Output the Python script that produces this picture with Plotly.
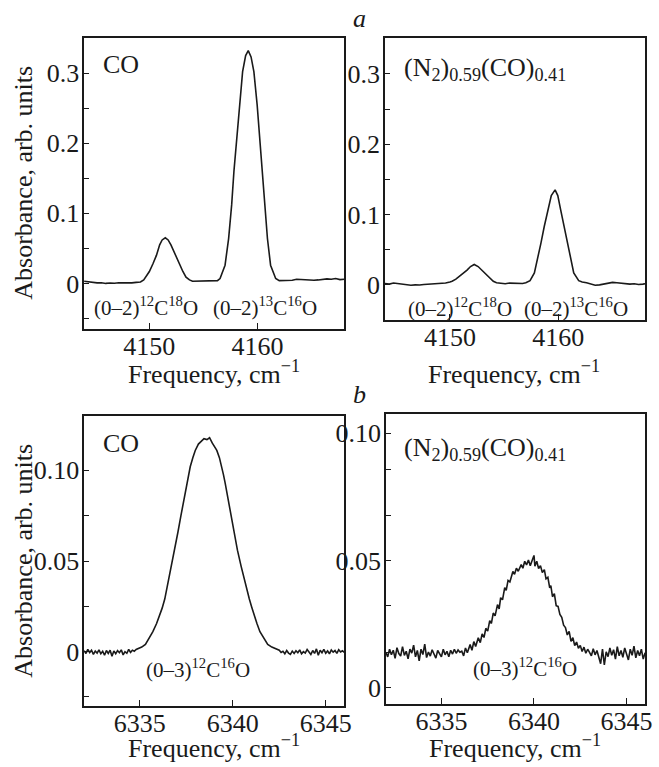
import plotly.graph_objects as go

# ---------------- data ----------------
# (a) CO, (0-2) band region
freq_a_co = [4144.0, 4144.4, 4144.8, 4145.2, 4145.6, 4146.0, 4146.4, 4146.8, 4147.2, 4147.6,
             4148.0, 4148.4, 4148.8, 4149.2, 4149.5, 4150.02, 4150.35, 4150.67, 4150.97, 4151.2,
             4151.49, 4151.75, 4152.01, 4152.44, 4152.78, 4153.11, 4153.4, 4153.72, 4154.0, 4154.4,
             4154.8, 4155.2, 4155.6, 4156.0, 4156.3, 4156.54, 4157.0, 4157.33, 4157.61, 4157.82,
             4158.07, 4158.31, 4158.62, 4158.9, 4159.14, 4159.4, 4159.66, 4159.96, 4160.2, 4160.42,
             4160.67, 4160.91, 4161.2, 4161.67, 4162.0, 4162.4, 4162.8, 4163.2, 4163.6, 4164.0,
             4164.4, 4164.8, 4165.2, 4165.6, 4166.0, 4166.4, 4166.8, 4167.2, 4167.6, 4168.0]
abs_a_co = [0.003, 0.002, 0.0015, 0.0008, 0.001, 0.0, 0.0006, 0.0002, 0.001, 0.0006,
            0.0012, 0.0008, 0.0015, 0.002, 0.005, 0.017, 0.028, 0.040, 0.055, 0.062,
            0.065, 0.062, 0.055, 0.040, 0.027, 0.017, 0.009, 0.005, 0.003, 0.003,
            0.004, 0.003, 0.0035, 0.003, 0.004, 0.007, 0.026, 0.064, 0.112, 0.160,
            0.207, 0.255, 0.302, 0.325, 0.332, 0.323, 0.302, 0.255, 0.207, 0.160,
            0.112, 0.064, 0.026, 0.007, 0.004, 0.004, 0.005, 0.0045, 0.006, 0.0055,
            0.006, 0.005, 0.0045, 0.005, 0.006, 0.0065, 0.006, 0.007, 0.0055, 0.006]

# (a) (N2)0.59(CO)0.41
freq_a_mix = [4144.0, 4144.4, 4144.8, 4145.2, 4145.6, 4146.0, 4146.4, 4146.8, 4147.2, 4147.6,
              4148.0, 4148.4, 4148.8, 4149.2, 4149.6, 4150.0, 4150.2, 4150.55, 4150.9, 4151.25,
              4151.58, 4151.9, 4152.24, 4152.6, 4152.94, 4153.25, 4153.55, 4153.8, 4154.0, 4154.3,
              4154.7, 4155.1, 4155.5, 4155.9, 4156.3, 4156.7, 4157.0, 4157.39, 4157.79, 4158.09,
              4158.39, 4158.7, 4159.03, 4159.35, 4159.7, 4159.95, 4160.21, 4160.52, 4160.82, 4161.12,
              4161.42, 4161.88, 4162.2, 4162.6, 4163.0, 4163.4, 4163.8, 4164.2, 4164.6, 4165.0,
              4165.4, 4165.8, 4166.2, 4166.6, 4167.0, 4167.4, 4167.8, 4168.0]
abs_a_mix = [0.002, 0.001, 0.0025, 0.0015, 0.0005, 0.0, -0.0005, 0.0, -0.0003, 0.0005,
             0.001, 0.0015, 0.001, 0.002, 0.0025, 0.004, 0.005, 0.008, 0.012, 0.017,
             0.021, 0.026, 0.029, 0.026, 0.021, 0.016, 0.012, 0.008, 0.005, 0.003,
             0.002, 0.0015, 0.0025, 0.002, 0.0025, 0.002, 0.003, 0.006, 0.017, 0.036,
             0.059, 0.083, 0.107, 0.127, 0.135, 0.127, 0.107, 0.083, 0.059, 0.036,
             0.017, 0.006, 0.004, 0.003, 0.001, -0.0005, 0.0, 0.0015, 0.003, 0.0035,
             0.003, 0.002, 0.002, 0.001, 0.0015, 0.0005, 0.001, 0.0015]

# (b) CO, (0-3) band
freq_b_co = [6332.0, 6332.1, 6332.2, 6332.3, 6332.4, 6332.5, 6332.6, 6332.7, 6332.8, 6332.9,
             6333.0, 6333.1, 6333.2, 6333.3, 6333.4, 6333.5, 6333.6, 6333.7, 6333.8, 6333.9,
             6334.0, 6334.1, 6334.2, 6334.3, 6334.4, 6334.5, 6334.6, 6334.7, 6334.8,
             6335.1, 6335.3, 6335.5, 6335.7, 6335.9, 6336.07, 6336.2, 6336.34, 6336.52, 6336.7,
             6336.88, 6337.05, 6337.21, 6337.38, 6337.54, 6337.71, 6337.85, 6337.98, 6338.15, 6338.3,
             6338.45, 6338.61, 6338.75, 6338.9, 6339.02, 6339.14, 6339.28, 6339.41, 6339.5, 6339.59,
             6339.75, 6339.91, 6340.08, 6340.25, 6340.45, 6340.66, 6340.78, 6340.89, 6341.02, 6341.14,
             6341.3, 6341.46, 6341.67, 6341.88, 6342.1, 6342.36,
             6342.5, 6342.6, 6342.7, 6342.8, 6342.9, 6343.0, 6343.1, 6343.2, 6343.3, 6343.4,
             6343.5, 6343.6, 6343.7, 6343.8, 6343.9, 6344.0, 6344.1, 6344.2, 6344.3, 6344.4,
             6344.5, 6344.6, 6344.7, 6344.8, 6344.9, 6345.0, 6345.1, 6345.2, 6345.3, 6345.4,
             6345.5, 6345.6, 6345.7, 6345.8, 6345.9, 6346.0]
abs_b_co = [0.0005, -0.0010, 0.0012, -0.0005, 0.0008, -0.0015, 0.0003, -0.0008, 0.0010, -0.0012,
            0.0002, -0.0020, 0.0006, -0.0010, 0.0008, -0.0025, 0.0004, -0.0012, 0.0006, -0.0006,
            0.0010, -0.0018, 0.0000, -0.0009, 0.0012, -0.0004, 0.0008, 0.0002, 0.0012,
            0.0025, 0.0040, 0.0075, 0.0110, 0.0155, 0.0200, 0.0240, 0.0290, 0.0380, 0.0470,
            0.0560, 0.0660, 0.0750, 0.0840, 0.0930, 0.1020, 0.1070, 0.1110, 0.1145, 0.1160,
            0.1175, 0.1170, 0.1180, 0.1150, 0.1130, 0.1110, 0.1070, 0.1020, 0.0975, 0.0930,
            0.0840, 0.0750, 0.0655, 0.0560, 0.0470, 0.0380, 0.0335, 0.0290, 0.0245, 0.0200,
            0.0155, 0.0110, 0.0075, 0.0040, 0.0025, 0.0015,
            0.0008, -0.0005, 0.0002, -0.0012, 0.0006, -0.0008, -0.0015, 0.0003, -0.0010, 0.0005,
            -0.0006, 0.0010, -0.0012, 0.0000, -0.0008, 0.0012, -0.0004, -0.0016, 0.0006, -0.0010,
            0.0015, -0.0020, 0.0008, -0.0006, 0.0012, -0.0009, 0.0004, -0.0012, 0.0009, -0.0003,
            0.0006, -0.0010, 0.0011, -0.0002, 0.0005, -0.0004]

# (b) (N2)0.59(CO)0.41
freq_b_mix = [6332.0, 6332.1, 6332.2, 6332.3, 6332.4, 6332.5, 6332.6, 6332.7, 6332.8, 6332.9,
              6333.0, 6333.1, 6333.2, 6333.3, 6333.4, 6333.5, 6333.6, 6333.7, 6333.8, 6333.9,
              6334.0, 6334.1, 6334.2, 6334.3, 6334.4, 6334.5, 6334.6, 6334.7, 6334.8, 6334.9,
              6335.0, 6335.1, 6335.2, 6335.3, 6335.4, 6335.5, 6335.6, 6335.7, 6335.8, 6335.9,
              6336.0, 6336.1, 6336.2, 6336.3, 6336.4, 6336.55, 6336.65, 6336.75, 6336.85, 6336.99,
              6337.1, 6337.2, 6337.3, 6337.4, 6337.5, 6337.61, 6337.7, 6337.8, 6337.9, 6338.03,
              6338.12, 6338.2, 6338.3, 6338.42, 6338.5, 6338.6, 6338.7, 6338.86, 6338.95, 6339.05,
              6339.15, 6339.31, 6339.4, 6339.5, 6339.6, 6339.7, 6339.8, 6339.9, 6340.0, 6340.05,
              6340.15, 6340.25, 6340.35, 6340.45, 6340.56, 6340.65, 6340.75, 6340.85, 6340.91, 6341.0,
              6341.1, 6341.2, 6341.3, 6341.4, 6341.5, 6341.6, 6341.7, 6341.8, 6341.9, 6342.0,
              6342.1, 6342.2, 6342.3, 6342.4, 6342.5, 6342.6, 6342.7, 6342.8, 6342.9,
              6343.0, 6343.1, 6343.2, 6343.3, 6343.4, 6343.5, 6343.6, 6343.7, 6343.8, 6343.9,
              6344.0, 6344.1, 6344.2, 6344.3, 6344.4, 6344.5, 6344.6, 6344.7, 6344.8, 6344.9,
              6345.0, 6345.1, 6345.2, 6345.3, 6345.4, 6345.5, 6345.6, 6345.7, 6345.8, 6345.9,
              6346.0]
abs_b_mix = [0.0140, 0.0122, 0.0152, 0.0130, 0.0148, 0.0116, 0.0158, 0.0135, 0.0125, 0.0162,
             0.0128, 0.0144, 0.0114, 0.0152, 0.0137, 0.0168, 0.0122, 0.0147, 0.0106, 0.0152,
             0.0131, 0.0172, 0.0119, 0.0141, 0.0125, 0.0150, 0.0133, 0.0117, 0.0147, 0.0136,
             0.0122, 0.0152, 0.0130, 0.0144, 0.0122, 0.0148, 0.0133, 0.0152, 0.0136, 0.0149,
             0.0140, 0.0144, 0.0126, 0.0157, 0.0138, 0.0170, 0.0148, 0.0182, 0.0163, 0.0197,
             0.0178, 0.0212, 0.0198, 0.0234, 0.0223, 0.0264, 0.0253, 0.0294, 0.0283, 0.0327,
             0.0310, 0.0354, 0.0346, 0.0394, 0.0383, 0.0422, 0.0416, 0.0457, 0.0446, 0.0470,
             0.0458, 0.0484, 0.0470, 0.0497, 0.0483, 0.0502, 0.0480, 0.0500, 0.0520, 0.0478,
             0.0497, 0.0468, 0.0480, 0.0453, 0.0464, 0.0428, 0.0434, 0.0393, 0.0402, 0.0358,
             0.0370, 0.0323, 0.0320, 0.0288, 0.0277, 0.0246, 0.0237, 0.0208, 0.0222, 0.0183,
             0.0197, 0.0166, 0.0180, 0.0156, 0.0167, 0.0143, 0.0160, 0.0136, 0.0152,
             0.0140, 0.0126, 0.0154, 0.0130, 0.0147, 0.0116, 0.0095, 0.0152, 0.0090, 0.0142,
             0.0123, 0.0157, 0.0128, 0.0150, 0.0113, 0.0162, 0.0126, 0.0147, 0.0120, 0.0157,
             0.0135, 0.0110, 0.0152, 0.0128, 0.0164, 0.0118, 0.0147, 0.0126, 0.0152, 0.0113,
             0.0138]

# tick labels
yticks_a = [0, 0.1, 0.2, 0.3]
yticklabels_a = ["0", "0.1", "0.2", "0.3"]
yticks_b = [0, 0.05, 0.10]
yticklabels_b = ["0", "0.05", "0.10"]
xticks_a = [4150, 4160]
xticks_b = [6335, 6340, 6345]

# ---------------- figure ----------------
W, H = 659, 767
FONT = "Liberation Serif"
INK = "#1a1a1a"


def px(x):
    return x / W


def py(y):
    return 1 - y / H


fig = go.Figure()
line = dict(color=INK, width=1.6)
fig.add_trace(go.Scatter(x=freq_a_co, y=abs_a_co, mode="lines", line=line, xaxis="x", yaxis="y", showlegend=False))
fig.add_trace(go.Scatter(x=freq_a_mix, y=abs_a_mix, mode="lines", line=line, xaxis="x2", yaxis="y2", showlegend=False))
fig.add_trace(go.Scatter(x=freq_b_co, y=abs_b_co, mode="lines", line=line, xaxis="x3", yaxis="y3", showlegend=False))
fig.add_trace(go.Scatter(x=freq_b_mix, y=abs_b_mix, mode="lines", line=line, xaxis="x4", yaxis="y4", showlegend=False))

tickfont = dict(family=FONT, size=26, color=INK)


def xax(dom, rng, ticks, anchor):
    return dict(domain=dom, range=rng, tickvals=ticks, ticktext=[str(t) for t in ticks],
                showline=True, mirror=True, linecolor=INK, linewidth=1.5,
                ticks="inside", ticklen=6, tickwidth=1.3, tickcolor=INK,
                tickfont=tickfont, showgrid=False, zeroline=False, anchor=anchor,
                ticklabelstandoff=-7)


def yax(dom, rng, ticks, labels, minor, anchor):
    return dict(domain=dom, range=rng, tickvals=ticks, ticktext=labels,
                showline=True, mirror=True, linecolor=INK, linewidth=1.5,
                ticks="inside", ticklen=5, tickwidth=1.3, tickcolor=INK,
                minor=dict(tickvals=minor, ticks="inside", ticklen=5, tickwidth=1.3, tickcolor=INK),
                tickfont=tickfont, showgrid=False, zeroline=False, anchor=anchor,
                ticklabelstandoff=-2)


fig.update_layout(
    width=W, height=H, autosize=False,
    margin=dict(l=0, r=0, t=0, b=0),
    paper_bgcolor="white", plot_bgcolor="white",
    font=dict(family=FONT, color=INK),
    xaxis=xax([px(85), px(348)], [4144, 4168], xticks_a, "y"),
    yaxis=yax([py(329), py(38)], [-0.065, 0.35], yticks_a, yticklabels_a, [-0.05, 0.05, 0.15, 0.25], "x"),
    xaxis2=xax([px(389), px(652)], [4144, 4168], xticks_a, "y2"),
    yaxis2=yax([py(320), py(38)], [-0.05, 0.351], yticks_a, yticklabels_a, [-0.05, 0.05, 0.15, 0.25], "x2"),
    xaxis3=xax([px(85), px(348)], [6332, 6346], xticks_b, "y3"),
    yaxis3=yax([py(706), py(416)], [-0.03, 0.13], yticks_b, yticklabels_b, [-0.025, 0.025, 0.075], "x3"),
    xaxis4=xax([px(390), px(652)], [6332, 6346], xticks_b, "y4"),
    yaxis4=yax([py(704), py(414)], [-0.0063, 0.1075], yticks_b, yticklabels_b, [0.0141, 0.0322, 0.0678, 0.0859], "x4"),
)

ann = []


def text(x, y, s, size=26, xanchor="center", italic=False):
    f = dict(family=FONT, size=size, color=INK)
    if italic:
        f["style"] = "italic"
    ann.append(dict(x=px(x), y=py(y), xref="paper", yref="paper", text=s, showarrow=False,
                    xanchor=xanchor, yanchor="middle", font=f))


# panel letters
text(363, 18, "a", italic=True)
text(363, 394, "b", italic=True)
# axis titles
text(216, 373, "Frequency, cm<sup>−1</sup>")
text(520, 373, "Frequency, cm<sup>−1</sup>")
text(216, 746, "Frequency, cm<sup>−1</sup>")
text(521, 746, "Frequency, cm<sup>−1</sup>")
for yc in (183, 561):
    ann.append(dict(x=px(23), y=py(yc), xref="paper", yref="paper", text="Absorbance, arb. units",
                    showarrow=False, textangle=-90, xanchor="center", yanchor="middle",
                    font=dict(family=FONT, size=26, color=INK)))
# sample labels
text(102, 64, "CO", xanchor="left")
text(406, 69, "(N<sub>2</sub>)<sub>0.59</sub>(CO)<sub>0.41</sub>", xanchor="left")
text(102, 444, "CO", xanchor="left")
text(406, 449, "(N<sub>2</sub>)<sub>0.59</sub>(CO)<sub>0.41</sub>", xanchor="left")
# band labels
text(148, 306, "(0–2)<sup>12</sup>C<sup>18</sup>O", size=21)
text(268, 306, "(0–2)<sup>13</sup>C<sup>16</sup>O", size=21)
text(465, 308, "(0–2)<sup>12</sup>C<sup>18</sup>O", size=21)
text(582, 308, "(0–2)<sup>13</sup>C<sup>16</sup>O", size=21)
text(200, 668, "(0–3)<sup>12</sup>C<sup>16</sup>O", size=21)
text(531, 667, "(0–3)<sup>12</sup>C<sup>16</sup>O", size=21)

fig.update_layout(annotations=ann)
fig.write_html("out.html", config={"displayModeBar": False},
               post_script="document.body.style.margin='0px';document.body.style.overflow='hidden';")
